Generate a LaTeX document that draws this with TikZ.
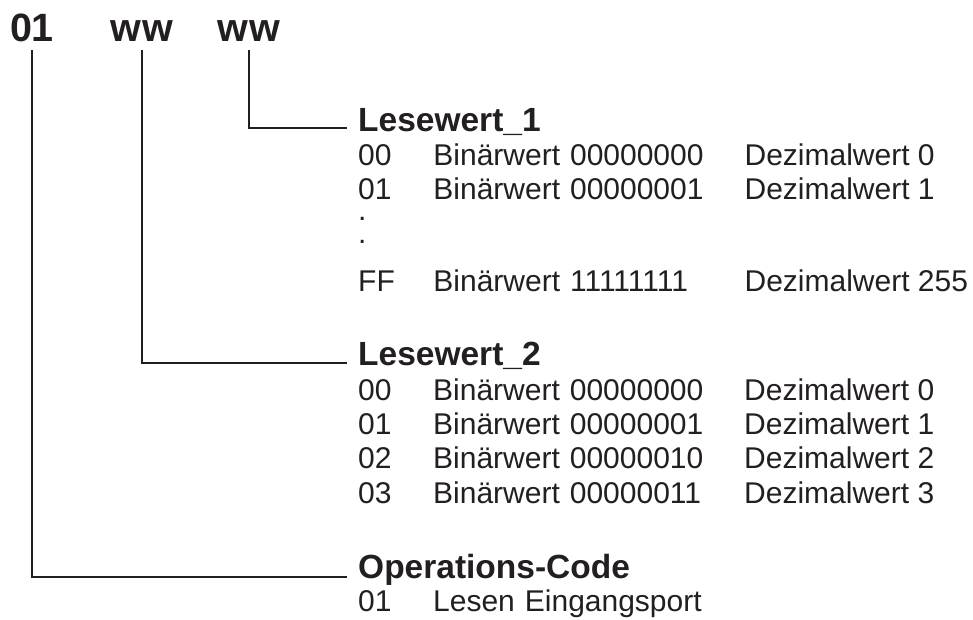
\documentclass[tikz,border=0pt]{standalone}
\usepackage{fontspec}
\setmainfont{Liberation Sans}
\usepackage{tikz}
\usetikzlibrary{calc, matrix, positioning}
\definecolor{ink}{RGB}{35,31,32}

\begin{document}
\begin{tikzpicture}[x=1pt,y=-1pt]
	\tikzstyle{code} = [text=ink, font=\fontsize{39.5}{44}\selectfont\bfseries, inner sep=0pt, outer ysep=9pt, anchor=base];
	\tikzstyle{head} = [text=ink, font=\fontsize{33.5}{40}\selectfont\bfseries, inner sep=0pt, anchor=base west];
	\tikzstyle{cell} = [text=ink, font=\fontsize{30}{34}\selectfont, inner sep=0pt, text height=24pt, text depth=10pt];
	\tikzstyle{hex} = [cell, text width=75pt];
	\tikzstyle{bin} = [cell, text width=311pt];
	\tikzstyle{dec} = [cell];
	\tikzstyle{tab} = [inner sep=0pt, column sep=0pt, row sep=0pt, anchor=north west, ampersand replacement=\&];
	\tikzstyle{conn} = [draw=ink, line width=2.5pt];

	\useasboundingbox (0,0) rectangle (973,619);

	% command word
	\node [code] (opcode) at (32,41) {01};
	\node [code] (val2) at (142,41) {w\kern1.5pt w};
	\node [code] (val1) at (249,41) {w\kern1.5pt w};

	% headings
	\node [head] (lw1 head) at (358,131) {Lesewert\_1};
	\node [head] (lw2 head) at (358,365) {Lesewert\_2};
	\node [head] (op head) at (358,578) {Operations-Code};

	% Lesewert_1
	\matrix (lw1 tab) [tab] at (358,141)
	{
		\node [hex] (lw1 h0) {00}; \& \node [bin] (lw1 b0) {Binärwert 00000000}; \& \node [dec] (lw1 d0) {Dezimalwert 0}; \\
		\node [hex] (lw1 h1) {01}; \& \node [bin] (lw1 b1) {Binärwert 00000001}; \& \node [dec] (lw1 d1) {Dezimalwert 1}; \\[-13pt]
		\node [hex] (lw1 dot1) {.}; \& \& \\[-12pt]
		\node [hex] (lw1 dot2) {.}; \& \& \\[14pt]
		\node [hex] (lw1 hf) {FF}; \& \node [bin] (lw1 bf) {Binärwert 11111111}; \& \node [dec] (lw1 df) {Dezimalwert 255}; \\
	};

	% Lesewert_2
	\matrix (lw2 tab) [tab] at (358,376)
	{
		\node [hex] (lw2 h0) {00}; \& \node [bin] (lw2 b0) {Binärwert 00000000}; \& \node [dec] (lw2 d0) {Dezimalwert 0}; \\
		\node [hex] (lw2 h1) {01}; \& \node [bin] (lw2 b1) {Binärwert 00000001}; \& \node [dec] (lw2 d1) {Dezimalwert 1}; \\
		\node [hex] (lw2 h2) {02}; \& \node [bin] (lw2 b2) {Binärwert 00000010}; \& \node [dec] (lw2 d2) {Dezimalwert 2}; \\
		\node [hex] (lw2 h3) {03}; \& \node [bin] (lw2 b3) {Binärwert 00000011}; \& \node [dec] (lw2 d3) {Dezimalwert 3}; \\
	};

	% Operations-Code
	\matrix (op tab) [tab] at (358,587)
	{
		\node [hex] (op h1) {01}; \& \node [bin] (op b1) {Lesen Eingangsport}; \\
	};

	%connectors
	\path [conn] (val1.south) |- ([shift={(-11,-3)}]lw1 head.base west);
	\path [conn] (val2.south) |- ([shift={(-11,-2)}]lw2 head.base west);
	\path [conn] (opcode.south) |- ([shift={(-11,-1)}]op head.base west);

\end{tikzpicture}
\end{document}
